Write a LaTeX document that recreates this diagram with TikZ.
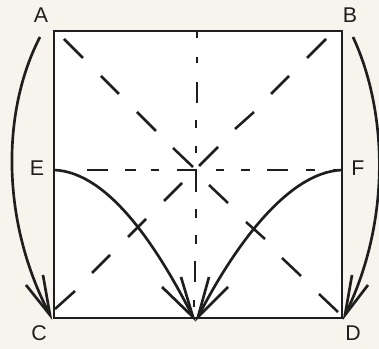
\documentclass[tikz,border=0pt]{standalone}
\usepackage{fontspec}
\setmainfont{Liberation Sans}
\definecolor{paper}{HTML}{F7F4EE}
\definecolor{ink}{HTML}{1E1E1E}
\tikzset{
  px/.style={x=0.75pt,y=-0.75pt},
  lab/.style={font=\fontsize{16}{18}\selectfont,text=ink,inner sep=0pt},
  edge/.style={draw=ink,line width=2.2pt},
  fold/.style={draw=ink,line width=1.9pt},
  swing/.style={draw=ink,line width=2pt},
  barb/.style={draw=ink,line width=2pt,line join=miter}
}
\begin{document}
\begin{tikzpicture}[px]
\useasboundingbox (0,0) rectangle (379,349);
\fill[paper] (0,0) rectangle (379,349);
\coordinate (NW) at (54,31); \coordinate (NE) at (342,31);
\coordinate (SW) at (54,318); \coordinate (SE) at (342,318);
\coordinate (W) at (54,170); \coordinate (R) at (342,170);
\fill[white] (NW) rectangle (SE);
% diagonals
\draw[fold] (64,39) -- (83,58) (101,76) -- (119,94) (137,112) -- (156,131) (173,148) -- (193,167);
\draw[fold] (209,185) -- (228,203) (246,222) -- (265,239) (282,258) -- (301,276) (319,294) -- (338,312);
\draw[fold] (326,39) -- (307,58) (289,76) -- (271,94) (254,112) -- (235,129) (218,147) -- (199,166);
\draw[fold] (182,183) -- (164,201) (146,219) -- (128,237) (110,255) -- (92,273) (75,291) -- (55,309);
% vertical crease
\draw[fold] (197,31) -- (197,38) (197,57) -- (197,63) (197,82) -- (197,103) (196,120) -- (196,128) (196,146) -- (196,153) (196,170) -- (196,192) (196,209) -- (196,218) (196,235) -- (196,244) (195,261) -- (195,282) (194,300) -- (194,307);
% horizontal crease
\draw[fold] (87,170) -- (108,170) (125,170) -- (136,170) (151,170) -- (159,170) (177,170) -- (197,170) (216,170) -- (224,170) (241,170) -- (250,170) (267,170) -- (288,170) (306,170) -- (315,170) (333,170) -- (342,170);
% square
\draw[edge] (NW) rectangle (SE);
% labels
\node[lab] (A) at (41,15) {A};
\node[lab] (B) at (350,15) {B};
\node[lab] (E) at (37,168) {E};
\node[lab] (F) at (358,168) {F};
\node[lab] (C) at (39,333) {C};
\node[lab] (D) at (353,333) {D};
% tips
\coordinate (tA) at (40,37); \coordinate (tC) at (50,315);
\coordinate (tB) at (353,37); \coordinate (tD) at (345,315);
\coordinate (tL) at (193,317); \coordinate (tR) at (198,317);
% long arcs
\draw[swing] (tA) .. controls (2,110) and (0,220) .. (tC);
\draw[swing] (tB) .. controls (387,110) and (392,220) .. (tD);
\draw[barb] (26,285) -- (tC) -- (43,275);
\draw[barb] (368,285) -- (tD) -- (352,275);
% inner arcs
\draw[swing] (W) .. controls (110,172) and (160,252) .. (tL);
\draw[swing] (R) .. controls (286,172) and (231,252) .. (tR);
\draw[barb] (162,287) -- (tL) -- (181,277);
\draw[barb] (228,287) -- (tR) -- (209,277);
\end{tikzpicture}
\end{document}
